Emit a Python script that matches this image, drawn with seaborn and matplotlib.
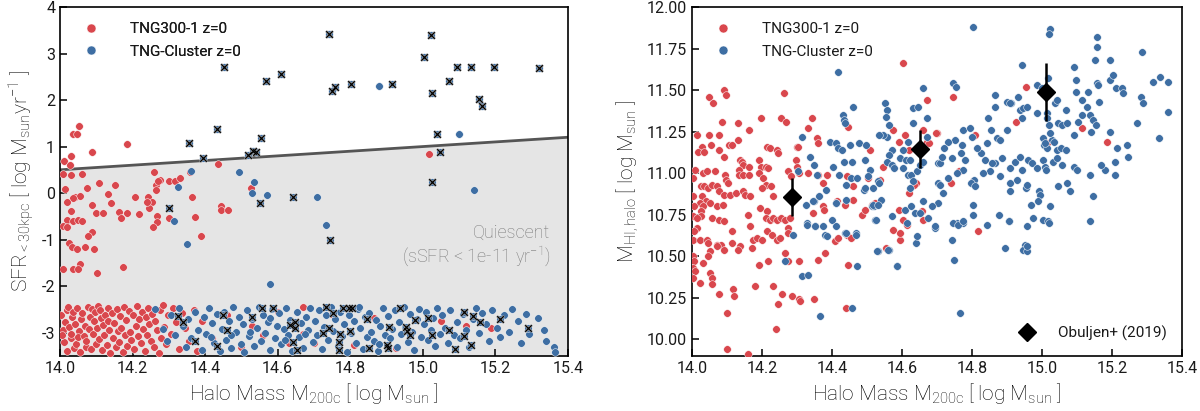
import numpy as np
import pandas as pd
import matplotlib
matplotlib.use("Agg")
import matplotlib.pyplot as plt
import seaborn as sns
from matplotlib.lines import Line2D

sns.set_theme(style="white")
plt.rcParams["font.family"] = ["Roboto", "DejaVu Sans"]
plt.rcParams["font.weight"] = "normal"
plt.rcParams["mathtext.fontset"] = "custom"
plt.rcParams["mathtext.rm"] = "Roboto:light"
plt.rcParams["mathtext.it"] = "Roboto:italic:light"
plt.rcParams["mathtext.bf"] = "Roboto:bold"
plt.rcParams["axes.unicode_minus"] = False
plt.rcParams["text.color"] = "black"
plt.rcParams["axes.labelcolor"] = "black"

RED = "#d9474d"
BLUE = "#3e6ea3"

# ---------------- data: left panel (SFR vs halo mass) ----------------
# TNG300-1, star-forming / intermediate region
tng300_sfr_upper = [
    (14.053, 1.44), (14.037, 1.28), (14.048, 1.27), (14.184, 1.05), (14.088, 0.88), (14.031, 0.79),
    (14.012, 0.70), (14.027, 0.61), (14.436, 0.63), (14.009, 0.41), (14.030, 0.39), (14.062, 0.41),
    (14.258, 0.46), (14.358, 0.46), (14.276, 0.29), (14.107, 0.21), (14.152, 0.17), (14.300, 0.27),
    (14.317, 0.26), (14.331, 0.32), (14.265, 0.18), (14.264, 0.06), (14.074, 0.11), (14.015, 0.09),
    (14.131, -0.02), (14.041, -0.08), (14.055, -0.06), (14.207, -0.08), (14.243, -0.09), (14.364, -0.08),
    (14.271, 0.26), (14.037, -0.11), (14.018, -0.19), (14.253, -0.20), (14.246, -0.31), (14.140, -0.21),
    (14.087, -0.26), (14.029, -0.39), (14.099, -0.43), (14.119, -0.43), (14.163, -0.40), (14.184, -0.43),
    (14.219, -0.45), (14.266, -0.49), (14.167, -0.54), (14.372, -0.52), (14.300, -0.54), (14.018, -0.58),
    (14.037, -0.59), (14.050, -0.58), (14.061, -0.59), (14.266, -0.63), (14.255, -0.72), (14.007, -0.70),
    (14.018, -0.72), (14.089, -0.83), (14.076, -0.93), (14.026, -1.08), (14.032, -1.15), (14.069, -1.16),
    (14.048, -1.21), (14.095, -1.21), (14.444, -0.27), (14.444, -0.36), (14.464, -0.36), (14.388, -0.93),
    (14.055, -1.52), (14.035, -1.63), (14.049, -1.64), (14.007, -1.64), (14.103, -1.72), (14.173, -1.58),
    (14.239, -0.19), (14.526, 0.10), (15.017, 0.84),
]
# TNG300-1, quenched band
tng300_sfr_band = [
    (14.003, -2.62), (14.008, -2.95), (14.012, -3.21), (14.015, -2.78), (14.018, -3.40), (14.005, -3.05), (14.019, -2.52),
    (14.022, -2.45), (14.026, -2.88), (14.031, -3.12), (14.034, -2.67), (14.038, -3.33), (14.029, -3.02), (14.036, -2.55),
    (14.041, -2.81), (14.045, -3.25), (14.048, -2.47), (14.052, -2.96), (14.056, -3.42), (14.058, -2.70), (14.050, -3.10),
    (14.062, -2.58), (14.066, -3.08), (14.069, -2.85), (14.073, -3.30), (14.077, -2.44), (14.079, -2.92), (14.071, -3.18),
    (14.082, -2.66), (14.085, -3.36), (14.088, -2.49), (14.091, -3.02), (14.094, -2.76), (14.098, -3.24), (14.096, -2.55),
    (14.101, -2.90), (14.104, -2.42), (14.108, -3.14), (14.112, -2.68), (14.116, -3.38), (14.118, -2.83), (14.110, -2.52),
    (14.122, -3.05), (14.125, -2.61), (14.129, -3.27), (14.133, -2.46), (14.136, -2.95), (14.139, -3.44), (14.131, -2.74),
    (14.142, -2.58), (14.146, -3.12), (14.149, -2.80), (14.153, -3.31), (14.157, -2.50), (14.159, -2.97),
    (14.162, -3.20), (14.165, -2.64), (14.169, -2.91), (14.173, -3.41), (14.177, -2.45), (14.179, -3.06),
    (14.183, -2.72), (14.186, -3.28), (14.190, -2.53), (14.194, -2.99), (14.197, -3.15),
    (14.202, -2.62), (14.205, -3.36), (14.209, -2.85), (14.213, -2.43), (14.216, -3.08), (14.219, -2.71),
    (14.222, -3.22), (14.226, -2.56), (14.229, -2.93), (14.233, -3.40), (14.237, -2.67), (14.239, -3.04),
    (14.242, -2.48), (14.246, -2.81), (14.250, -3.18), (14.254, -2.60), (14.258, -3.30),
    (14.263, -2.74), (14.267, -2.95), (14.272, -3.43), (14.276, -2.52), (14.279, -3.12),
    (14.284, -2.40), (14.288, -2.88), (14.293, -3.25), (14.297, -2.63),
    (14.305, -3.02), (14.312, -2.47), (14.320, -2.78), (14.328, -3.35), (14.336, -2.58),
    (14.345, -2.90), (14.355, -3.18), (14.368, -2.52), (14.378, -3.40), (14.390, -2.75),
    (14.42, -3.12), (14.46, -2.62), (14.50, -3.30), (14.53, -2.85), (14.56, -3.05), (14.60, -2.56),
    (14.63, -3.22), (14.67, -2.44), (14.67, -3.03), (14.70, -3.22), (14.75, -2.60), (14.81, -3.27),
    (14.865, -2.68), (14.926, -3.32), (15.05, -2.75), (15.119, -2.85), (15.188, -2.91),
]
# TNG-Cluster, unflagged points above the band
cluster_sfr_upper = [
    (14.361, 0.47), (14.493, 0.46), (14.535, 0.23), (14.528, 0.01), (14.571, -0.04), (14.326, 0.13),
    (14.707, -0.08), (14.314, -0.61), (14.350, -1.09), (14.579, -1.96), (14.733, -0.69), (14.880, 2.31),
    (15.100, 1.27), (15.142, 0.06),
]
# TNG-Cluster, quenched band
cluster_sfr_band = [
    (14.262, -2.50), (14.283, -2.92), (14.296, -3.18),
    (14.305, -2.62), (14.318, -3.05), (14.327, -2.48), (14.338, -2.85), (14.346, -3.30),
    (14.353, -2.70), (14.362, -3.12), (14.371, -2.55), (14.380, -2.95), (14.390, -3.38), (14.397, -2.66),
    (14.402, -3.02), (14.410, -2.48), (14.418, -2.80), (14.425, -3.22), (14.433, -2.60), (14.440, -3.40), (14.447, -2.92), (14.415, -3.10),
    (14.452, -2.55), (14.458, -3.15), (14.465, -2.75), (14.472, -3.32), (14.478, -2.45), (14.485, -2.98), (14.492, -2.66), (14.498, -3.25), (14.470, -3.05),
    (14.503, -2.82), (14.508, -3.42), (14.515, -2.52), (14.522, -3.08), (14.528, -2.70), (14.535, -3.28), (14.542, -2.90), (14.548, -2.44), (14.525, -2.98),
    (14.553, -3.18), (14.560, -2.62), (14.566, -3.00), (14.572, -2.78), (14.578, -3.38), (14.585, -2.50), (14.592, -3.12), (14.598, -2.85), (14.580, -2.68),
    (14.603, -2.58), (14.610, -3.25), (14.616, -2.92), (14.622, -2.46), (14.628, -3.05), (14.634, -2.72), (14.640, -3.40), (14.646, -2.85), (14.620, -3.15),
    (14.652, -2.55), (14.658, -3.10), (14.665, -2.80), (14.671, -3.32), (14.677, -2.66), (14.683, -2.95), (14.690, -2.48), (14.696, -3.20), (14.675, -3.02),
    (14.703, -2.74), (14.709, -3.06), (14.715, -2.52), (14.722, -3.36), (14.728, -2.88), (14.734, -2.62), (14.740, -3.15), (14.747, -2.45), (14.725, -3.00),
    (14.752, -2.96), (14.758, -2.70), (14.765, -3.28), (14.771, -2.55), (14.777, -3.08), (14.783, -2.82), (14.790, -3.42), (14.796, -2.62), (14.780, -2.48),
    (14.803, -3.00), (14.809, -2.76), (14.815, -3.22), (14.822, -2.50), (14.828, -2.90), (14.834, -3.35), (14.840, -2.66), (14.847, -3.10), (14.825, -2.44),
    (14.852, -2.58), (14.858, -2.98), (14.865, -3.18), (14.871, -2.72), (14.877, -3.40), (14.883, -2.85), (14.890, -2.48), (14.896, -3.05), (14.880, -3.25),
    (14.903, -2.64), (14.909, -3.12), (14.915, -2.92), (14.922, -2.52), (14.928, -3.30), (14.934, -2.78), (14.940, -3.02), (14.947, -2.45),
    (14.952, -2.88), (14.958, -3.20), (14.965, -2.60), (14.971, -2.98), (14.977, -3.38), (14.983, -2.70), (14.990, -2.50), (14.996, -3.10),
    (15.003, -2.82), (15.009, -2.55), (15.015, -3.15), (15.022, -2.95), (15.028, -2.68), (15.034, -3.28), (15.040, -2.46), (15.047, -3.02),
    (15.052, -2.62), (15.060, -2.90), (15.068, -3.22), (15.076, -2.52), (15.085, -3.05), (15.093, -2.78),
    (15.103, -3.12), (15.112, -2.60), (15.120, -2.95), (15.128, -3.30), (15.137, -2.70), (15.146, -2.48),
    (15.155, -3.00), (15.164, -2.58), (15.173, -2.82), (15.182, -3.18), (15.192, -2.52),
    (15.205, -2.90), (15.214, -3.10), (15.225, -2.62), (15.238, -2.98), (15.246, -2.50),
    (15.262, -2.75), (15.270, -3.22), (15.285, -2.60), (15.292, -3.02),
    (15.318, -2.68), (15.335, -2.95), (15.340, -3.18), (15.362, -3.30), (15.364, -3.42),
]
# TNG-Cluster, flagged (x) points
cluster_sfr_flagged = [
    (14.452, 2.70), (14.567, 2.40), (14.609, 2.57), (14.432, 1.37), (14.356, 1.07), (14.393, 0.76),
    (14.554, 1.18), (14.517, 0.82), (14.531, 0.91), (14.540, 0.89), (14.741, 3.42), (15.022, 3.40),
    (15.004, 2.93), (15.093, 2.71), (15.132, 2.71), (15.197, 2.71), (15.321, 2.68), (14.757, 2.27),
    (14.750, 2.19), (14.802, 2.35), (14.916, 2.35), (15.073, 2.40), (15.024, 2.16), (15.156, 2.03),
    (15.162, 1.88), (15.040, 1.28), (15.047, 0.89), (15.024, 0.24), (14.641, -0.08), (14.551, -0.22),
    (14.300, -0.32), (14.745, -1.01),
    (14.326, -2.65), (14.338, -2.78), (14.372, -3.18), (14.450, -2.63), (14.459, -2.95), (14.432, -3.29),
    (14.528, -2.66), (14.556, -2.48), (14.586, -2.48), (14.634, -2.84), (14.648, -2.77), (14.648, -2.91),
    (14.641, -3.20), (14.654, -3.38), (14.733, -2.45), (14.753, -2.57), (14.781, -2.48), (14.797, -2.48),
    (14.806, -2.48), (14.845, -2.70), (14.742, -2.90), (14.725, -3.00), (14.772, -3.02), (14.799, -2.97),
    (14.770, -3.20), (14.770, -3.38), (14.852, -3.34), (14.902, -3.27), (14.907, -2.88), (14.937, -2.47),
    (14.978, -2.72), (14.957, -2.97), (14.954, -2.88), (14.965, -3.06), (15.024, -3.06), (15.014, -2.68),
    (15.072, -2.95), (15.113, -2.55), (15.137, -2.64), (15.157, -2.77), (15.113, -3.07), (15.134, -3.27),
    (15.088, -3.36), (15.213, -2.70), (15.289, -2.91), (14.905, -3.34),
]
# quiescence boundary (sSFR = 1e-11 / yr)
qline_mass = [14.0, 15.4]
qline_sfr = [0.5, 1.2]

# ---------------- data: right panel (HI mass vs halo mass) ----------------
tng300_hi = [
    (14.049, 11.46), (14.059, 11.42), (14.091, 11.50), (14.096, 11.47), (14.087, 11.31), (14.132, 11.30),
    (14.162, 11.26), (14.196, 11.33), (14.264, 11.48), (14.253, 11.33), (14.268, 11.31), (14.344, 11.33),
    (14.330, 11.27), (14.602, 11.66), (14.670, 11.44),
    (14.015, 11.23), (14.049, 11.23), (14.078, 11.23), (14.131, 11.20), (14.106, 11.17), (14.113, 11.17),
    (14.028, 11.16), (14.018, 11.13), (14.033, 11.13), (14.053, 11.17), (14.076, 11.14), (14.213, 11.16),
    (14.223, 11.15), (14.244, 11.14), (14.247, 11.12), (14.299, 11.16), (14.356, 11.21), (14.361, 11.18),
    (14.090, 11.10), (14.137, 11.08), (14.142, 11.07), (14.147, 11.05), (14.164, 11.04), (14.190, 11.08),
    (14.196, 11.04), (14.211, 11.04), (14.218, 11.03),
    (14.008, 11.02), (14.030, 11.00), (14.042, 11.01), (14.004, 10.97), (14.065, 11.01), (14.095, 10.99),
    (14.097, 10.96), (14.104, 10.94), (14.135, 11.02), (14.135, 10.99), (14.147, 10.99), (14.164, 10.99),
    (14.192, 11.00), (14.202, 10.97), (14.210, 10.93), (14.199, 10.91), (14.273, 11.01), (14.283, 10.98),
    (14.297, 11.08), (14.299, 11.04), (14.307, 11.00), (14.330, 11.00), (14.359, 10.99), (14.385, 10.99),
    (14.025, 10.92), (14.034, 10.92), (14.047, 10.91), (14.057, 10.93), (14.070, 10.92), (14.078, 10.89),
    (14.090, 10.87), (14.109, 10.87), (14.126, 10.88), (14.147, 10.89), (14.151, 10.87), (14.166, 10.86),
    (14.225, 10.92), (14.232, 10.86),
    (14.028, 10.86), (14.040, 10.83), (14.023, 10.82), (14.030, 10.80), (14.025, 10.77), (14.025, 10.74),
    (14.002, 10.86), (14.006, 10.80), (14.004, 10.74), (14.013, 10.73), (14.051, 10.82), (14.070, 10.80),
    (14.089, 10.81),
    (14.056, 10.73), (14.077, 10.72), (14.090, 10.71), (14.114, 10.65), (14.161, 10.75), (14.166, 10.68),
    (14.194, 10.79), (14.215, 10.77),
    (14.211, 10.73), (14.223, 10.72), (14.232, 10.73), (14.244, 10.72), (14.253, 10.73), (14.266, 10.72),
    (14.280, 10.73),
    (14.215, 10.65), (14.228, 10.63), (14.244, 10.60), (14.251, 10.61), (14.275, 10.67), (14.275, 10.64),
    (14.013, 10.67), (14.006, 10.65), (14.004, 10.60), (14.023, 10.60), (14.042, 10.60), (14.047, 10.58),
    (14.070, 10.57), (14.084, 10.57), (14.070, 10.56), (14.090, 10.54), (14.051, 10.53), (14.047, 10.50),
    (14.137, 10.56), (14.132, 10.54), (14.113, 10.58), (14.175, 10.60), (14.185, 10.61), (14.199, 10.60),
    (14.172, 10.55),
    (14.002, 10.50), (14.006, 10.47), (14.004, 10.43), (14.009, 10.41), (14.032, 10.46), (14.051, 10.40),
    (14.056, 10.37), (14.004, 10.37), (14.023, 10.34), (14.056, 10.33),
    (14.190, 10.45), (14.216, 10.47), (14.266, 10.52), (14.275, 10.47), (14.307, 10.47),
    (14.180, 10.32), (14.232, 10.32), (14.256, 10.27), (14.285, 10.26), (14.307, 10.24), (14.309, 10.23),
    (14.247, 10.21),
    (14.078, 10.27), (14.118, 10.30), (14.120, 10.26), (14.101, 10.16), (14.240, 10.06), (14.101, 9.94),
    (14.161, 9.91),
    (14.349, 10.24), (14.380, 10.52), (14.359, 10.48), (14.447, 10.45), (14.440, 10.19),
    (14.408, 10.59), (14.418, 10.61), (14.442, 10.63), (14.453, 10.61),
    (14.347, 10.76), (14.373, 10.80), (14.377, 10.78), (14.373, 10.94),
    (14.413, 10.83), (14.437, 10.81), (14.461, 10.84), (14.487, 10.75),
    (14.508, 11.14), (14.503, 10.97), (14.442, 10.98), (14.461, 10.92),
    (14.494, 10.78), (14.513, 10.81), (14.523, 10.82), (14.537, 10.96),
    (14.554, 10.55), (14.575, 10.66), (14.594, 10.60), (14.604, 10.72), (14.590, 10.78),
    (14.621, 10.88), (14.640, 10.94), (14.659, 10.72), (14.613, 10.69),
    (14.545, 11.04), (14.575, 11.26), (14.592, 11.19), (14.608, 11.23), (14.661, 11.26), (14.672, 11.19),
    (14.699, 11.24), (14.447, 11.28), (14.304, 11.16),
    (14.954, 11.52), (14.745, 11.46), (14.926, 11.31), (14.697, 11.24), (15.115, 11.27), (15.187, 11.19),
    (15.015, 11.18), (14.764, 11.01), (14.739, 10.94), (14.804, 10.95), (14.818, 10.65),
    (14.620, 11.14), (14.678, 11.18), (14.809, 11.23), (14.635, 10.93), (14.656, 10.77), (14.594, 10.64),
]
cluster_hi = [
    (14.416, 11.61), (14.459, 11.40), (14.432, 11.35), (14.434, 11.32), (14.437, 11.30), (14.314, 11.22),
    (14.394, 11.19), (14.410, 11.18), (14.418, 11.15), (14.428, 11.14), (14.450, 11.17), (14.478, 11.18),
    (14.496, 11.17), (14.337, 11.10), (14.349, 11.05), (14.302, 11.01), (14.356, 10.99), (14.404, 11.04),
    (14.434, 11.07), (14.456, 11.07), (14.420, 10.99), (14.439, 10.93), (14.453, 10.97), (14.470, 10.97),
    (14.383, 10.90), (14.349, 10.83), (14.364, 10.86), (14.410, 10.82), (14.326, 10.81), (14.328, 10.70),
    (14.352, 10.68), (14.380, 10.63), (14.437, 10.64), (14.469, 10.64), (14.399, 10.72), (14.440, 10.84),
    (14.490, 10.90),
    (14.494, 11.08), (14.509, 11.02), (14.504, 10.98), (14.532, 10.95), (14.535, 10.94), (14.494, 10.91),
    (14.516, 10.91), (14.513, 10.80), (14.520, 10.80), (14.539, 10.84), (14.523, 10.72), (14.532, 10.53),
    (14.564, 10.54), (14.570, 10.74), (14.587, 10.44),
    (14.551, 11.42), (14.558, 11.38), (14.554, 11.34), (14.564, 11.29), (14.556, 11.22), (14.547, 11.23),
    (14.533, 11.23),
    (14.570, 11.14), (14.564, 11.11), (14.556, 11.07), (14.570, 11.05), (14.577, 11.03), (14.594, 11.09),
    (14.611, 11.08), (14.623, 11.08),
    (14.604, 11.14), (14.618, 11.19), (14.630, 11.30), (14.630, 11.39), (14.645, 11.40), (14.661, 11.51),
    (14.670, 11.33), (14.672, 11.22),
    (14.604, 11.03), (14.618, 10.99), (14.626, 10.99), (14.642, 11.01), (14.651, 11.05), (14.661, 11.07),
    (14.632, 10.95), (14.661, 10.83),
    (14.608, 10.78), (14.627, 10.80), (14.637, 10.76), (14.651, 10.76), (14.623, 10.91),
    (14.615, 10.70), (14.640, 10.58), (14.642, 10.62), (14.675, 10.73), (14.694, 10.67),
    (14.704, 10.82), (14.704, 11.06), (14.704, 10.94),
    (14.267, 10.47), (14.315, 10.38), (14.331, 10.39), (14.365, 10.14), (14.458, 10.19), (14.288, 10.63),
    (14.347, 10.83), (14.411, 10.82), (14.328, 10.69), (14.351, 10.68), (14.375, 10.68), (14.411, 10.68),
    (14.385, 10.62), (14.440, 10.64), (14.468, 10.63), (14.471, 10.44), (14.528, 10.53), (14.525, 10.72),
    (14.518, 10.81), (14.532, 10.81), (14.561, 10.54), (14.585, 10.44),
    (14.944, 11.65), (15.090, 11.64), (15.150, 11.68), (15.194, 11.68), (14.745, 11.54), (14.755, 11.52),
    (14.866, 11.47), (14.866, 11.40), (14.901, 11.43), (14.912, 11.42), (14.932, 11.46), (14.985, 11.53),
    (15.001, 11.51), (15.018, 11.57), (15.037, 11.42), (15.042, 11.44), (15.068, 11.38), (15.096, 11.56),
    (15.096, 11.49), (15.132, 11.49), (15.156, 11.54), (15.161, 11.53), (15.163, 11.43), (15.194, 11.56),
    (15.202, 11.59), (15.211, 11.51), (15.228, 11.51), (15.230, 11.48), (15.282, 11.46), (15.288, 11.42),
    (15.272, 11.30), (15.318, 11.55), (15.337, 11.58), (15.361, 11.55), (15.359, 11.37), (15.335, 11.21),
    (15.114, 11.44), (15.114, 11.35), (15.129, 11.40), (15.136, 11.35), (15.147, 11.32), (15.155, 11.29),
    (15.140, 11.25), (15.104, 11.31), (15.091, 11.23),
    (15.194, 11.25), (15.215, 11.15), (15.242, 11.17), (15.247, 11.10), (15.209, 11.07), (15.180, 11.02),
    (15.168, 11.05), (15.209, 10.99),
    (15.137, 10.99), (15.147, 10.86), (15.137, 10.71),
    (14.937, 11.38), (14.947, 11.39), (14.956, 11.40), (14.942, 11.33), (14.985, 11.36), (15.013, 11.36),
    (15.015, 11.33), (15.021, 11.29), (15.028, 11.20), (15.045, 11.30), (15.056, 11.29), (15.071, 11.30),
    (15.004, 11.21), (15.006, 11.17), (15.013, 11.15), (15.034, 11.19), (15.042, 11.14), (15.053, 11.15),
    (15.068, 11.14), (15.031, 11.07), (15.002, 11.08), (15.009, 11.04), (15.011, 11.02),
    (15.045, 10.92), (15.071, 10.94), (15.080, 10.89), (15.091, 11.04), (15.099, 11.02), (15.023, 10.80),
    (15.004, 10.72), (15.018, 10.71), (14.975, 10.73), (14.956, 10.68),
    (15.056, 11.05), (15.044, 11.09), (15.023, 11.24), (15.009, 11.18), (14.990, 10.89), (14.994, 10.87),
    (14.988, 10.83), (14.969, 10.81), (14.954, 10.91), (14.956, 10.93),
    (14.909, 10.89), (14.880, 10.98), (14.885, 11.09), (14.909, 11.03), (14.923, 11.07), (14.937, 11.10),
    (14.942, 11.02), (14.961, 11.08), (14.971, 11.06), (14.985, 11.03), (14.929, 10.96), (14.909, 10.94),
    (14.950, 10.57), (14.945, 10.54), (14.956, 10.53), (14.894, 10.55), (14.906, 10.71),
    (14.847, 11.33), (14.853, 11.26), (14.871, 11.21), (14.880, 11.20), (14.899, 11.26), (14.909, 11.42),
    (14.844, 11.18), (14.825, 11.12), (14.837, 11.08), (14.866, 11.06), (14.856, 11.06), (14.850, 11.01),
    (14.831, 11.00), (14.806, 10.96), (14.796, 10.94), (14.809, 10.92), (14.814, 11.15),
    (14.775, 11.26), (14.794, 11.27), (14.799, 11.22), (14.771, 11.17), (14.751, 11.20), (14.732, 11.19),
    (14.720, 11.15), (14.709, 11.06), (14.714, 11.10), (14.742, 11.09), (14.768, 11.12), (14.780, 11.08),
    (14.773, 11.02), (14.756, 11.00), (14.732, 10.97), (14.709, 10.93), (14.718, 10.88), (14.685, 10.80),
    (14.694, 10.68), (14.756, 10.70), (14.775, 10.70), (14.802, 10.81), (14.804, 10.75), (14.842, 10.69),
    (14.742, 10.60), (14.749, 10.48), (14.766, 10.16),
    (14.802, 11.88), (15.023, 11.87), (15.020, 11.84), (15.156, 11.82), (15.156, 11.76), (15.287, 11.73),
    (14.747, 10.70), (14.761, 10.69), (14.773, 10.71), (14.878, 10.75), (14.907, 10.71), (15.020, 10.70),
    (14.956, 10.56),
]
# Obuljen+ (2019) observations
obs_mass = [14.286, 14.650, 15.010]
obs_hi = [10.855, 11.145, 11.490]
obs_err = [0.115, 0.115, 0.175]


def frame(points):
    arr = np.array(points)
    return pd.DataFrame({"mass": arr[:, 0], "val": arr[:, 1]})


fig = plt.figure(figsize=(12, 4.11), dpi=100)
ax1 = fig.add_axes([0.05, 0.134, 0.4233, 0.849])
ax2 = fig.add_axes([0.5767, 0.134, 0.4083, 0.849])

dot = dict(s=30, edgecolor="white", linewidth=0.35, legend=False, zorder=3)

# ---------- left panel ----------
ax1.fill_between(qline_mass, qline_sfr, -3.5, color="#e5e5e5", zorder=0, linewidth=0)
ax1.plot(qline_mass, qline_sfr, color="#555555", lw=2.0, zorder=1)

sns.scatterplot(data=frame(tng300_sfr_band + tng300_sfr_upper), x="mass", y="val", color=RED, ax=ax1, **dot)
sns.scatterplot(data=frame(cluster_sfr_band + cluster_sfr_upper + cluster_sfr_flagged), x="mass", y="val",
                color=BLUE, ax=ax1, **dot)
flag = frame(cluster_sfr_flagged)
sns.scatterplot(data=flag, x="mass", y="val", marker="x", color="#a0a0a0", s=26, linewidth=1.8, ax=ax1,
                legend=False, zorder=4)
sns.scatterplot(data=flag, x="mass", y="val", marker="x", color="black", s=22, linewidth=0.9, ax=ax1,
                legend=False, zorder=5)

ax1.text(0.965, 0.352, "Quiescent", transform=ax1.transAxes, ha="right", va="center",
         color="#7a7a7a", fontsize=13, fontweight="light")
ax1.text(0.965, 0.284, "(sSFR < 1e-11 yr$^{-1}$)", transform=ax1.transAxes, ha="right", va="center",
         color="#7a7a7a", fontsize=13, fontweight="light")

ax1.set_xlim(14.0, 15.4)
ax1.set_ylim(-3.5, 4.0)
ax1.set_xticks([14.0, 14.2, 14.4, 14.6, 14.8, 15.0, 15.2, 15.4])
ax1.set_xticklabels(["14.0", "14.2", "14.4", "14.6", "14.8", "15.0", "15.2", "15.4"])
ax1.set_yticks([-3, -2, -1, 0, 1, 2, 3, 4])
ax1.set_xlabel("Halo Mass M$_{\\rm 200c}$ [ log M$_{\\rm sun}$ ]", fontsize=15, fontweight="light")
ax1.set_ylabel("SFR$_{\\rm <30kpc}$ [ log M$_{\\rm sun}$yr$^{-1}$ ]", fontsize=15, fontweight="light")

# ---------- right panel ----------
sns.scatterplot(data=frame(tng300_hi), x="mass", y="val", color=RED, ax=ax2, **dot)
sns.scatterplot(data=frame(cluster_hi), x="mass", y="val", color=BLUE, ax=ax2, **dot)
ax2.errorbar(obs_mass, obs_hi, yerr=obs_err, fmt="D", color="black", ms=9, elinewidth=1.8,
             capsize=0, zorder=6)

ax2.set_xlim(14.0, 15.4)
ax2.set_ylim(9.9, 12.0)
ax2.set_xticks([14.0, 14.2, 14.4, 14.6, 14.8, 15.0, 15.2, 15.4])
ax2.set_xticklabels(["14.0", "14.2", "14.4", "14.6", "14.8", "15.0", "15.2", "15.4"])
ax2.set_yticks([10.0, 10.25, 10.5, 10.75, 11.0, 11.25, 11.5, 11.75, 12.0])
ax2.set_yticklabels(["10.00", "10.25", "10.50", "10.75", "11.00", "11.25", "11.50", "11.75", "12.00"])
ax2.set_xlabel("Halo Mass M$_{\\rm 200c}$ [ log M$_{\\rm sun}$ ]", fontsize=15, fontweight="light")
ax2.set_ylabel("M$_{\\rm HI,halo}$ [ log M$_{\\rm sun}$ ]", fontsize=15, fontweight="light")

for ax in (ax1, ax2):
    for sp in ax.spines.values():
        sp.set_color("black")
        sp.set_linewidth(1.2)
    ax.tick_params(axis="both", direction="in", length=5, width=1.1, labelsize=11.5, color="black",
                   labelcolor="#1a1a1a", left=True, bottom=True, top=False, right=False)
    handles = [Line2D([], [], marker="o", ls="", color=RED, markersize=6.5, markeredgecolor="white",
                      markeredgewidth=0.4),
               Line2D([], [], marker="o", ls="", color=BLUE, markersize=6.5, markeredgecolor="white",
                      markeredgewidth=0.4)]
    leg = ax.legend(handles, ["TNG300-1 z=0", "TNG-Cluster z=0"], loc="upper left", frameon=False,
                    fontsize=11, handletextpad=1.6, labelspacing=0.55, borderaxespad=0.6,
                    bbox_to_anchor=(0.0, 1.0), labelcolor="#1a1a1a")
    ax.add_artist(leg)

ax2.legend([Line2D([], [], marker="D", ls="", color="black", markersize=9)], ["Obuljen+ (2019)"],
           loc="lower right", frameon=False, fontsize=11, handletextpad=1.0, borderaxespad=0.6,
           labelcolor="#1a1a1a")

fig.savefig("out.png", dpi=100)
